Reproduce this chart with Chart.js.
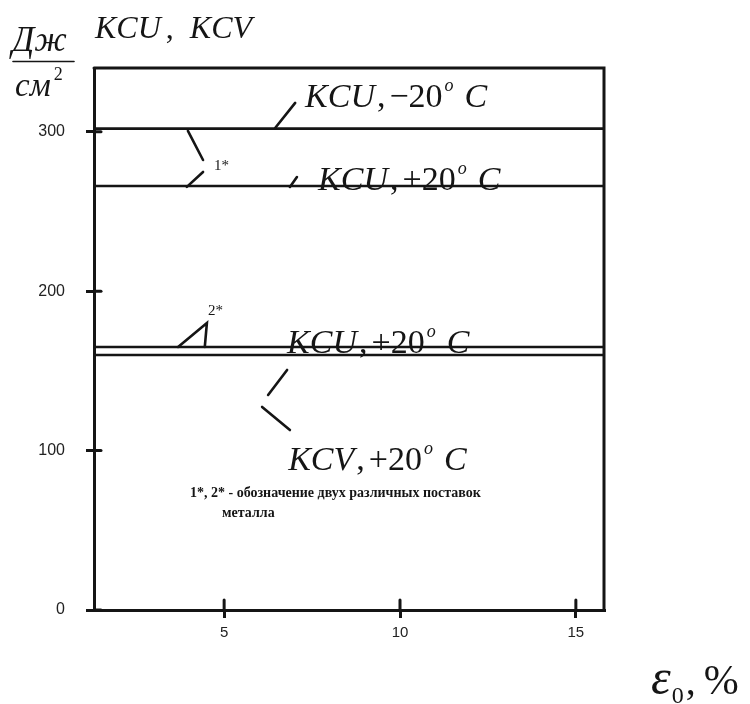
<!DOCTYPE html>
<html>
<head>
<meta charset="utf-8">
<script src="https://cdn.jsdelivr.net/npm/chart.js@4.4.1/dist/chart.umd.min.js"></script>
<style>
  html, body { margin: 0; padding: 0; background: #fff; }
  canvas { display: block; }
</style>
</head>
<body>
<canvas id="c" width="750" height="704"></canvas>
<script>
// Impact toughness vs. preliminary strain ε0
const strainRange = [1.3, 15.8];     // ε0, %
const energyRange = [0, 340];        // J/cm²
const xTicks = [5, 10, 15];
const yTicks = [0, 100, 200, 300];
const seriesNames = ['KCU −20°C (1*)', 'KCU +20°C (1*)', 'KCU +20°C (2*)', 'KCV +20°C (2*)'];
const seriesLevels = [302, 266, 165, 160];

const INK = '#151515';
const SERIF = '"Liberation Serif", "DejaVu Serif", serif';
const SANS = '"Liberation Sans", Arial, sans-serif';

// draws a run of text pieces with their own fonts and offsets
function rich(ctx, x, y, parts) {
  let cx = x;
  for (const p of parts) {
    ctx.font = p.f;
    cx += p.gap || 0;
    ctx.fillText(p.t, cx, y + (p.dy || 0));
    cx += ctx.measureText(p.t).width;
  }
}
const it = s => `italic ${s}px ${SERIF}`;
const up = s => `${s}px ${SERIF}`;

function tempLabel(ctx, x, y, name, temp) {
  rich(ctx, x, y, [
    { t: name, f: it(34) },
    { t: ',', f: up(34), gap: 2 },
    { t: temp, f: up(34), gap: 4 },
    { t: 'o', f: it(18), dy: -16, gap: 2 },
    { t: 'C', f: it(34), gap: 11 }
  ]);
}

const decorations = {
  id: 'decorations',
  afterDraw(chart) {
    const { ctx, chartArea: a, scales: { x, y } } = chart;
    const P = (vx, vy) => [x.getPixelForValue(vx), y.getPixelForValue(vy)];
    const seg = (p, q, w = 2.6) => {
      ctx.beginPath();
      ctx.moveTo(...P(...p));
      ctx.lineTo(...P(...q));
      ctx.lineWidth = w;
      ctx.stroke();
    };
    ctx.save();
    ctx.strokeStyle = INK;
    ctx.fillStyle = INK;
    ctx.lineCap = 'round';

    // top and right sides of the frame
    ctx.lineWidth = 3;
    ctx.beginPath();
    ctx.moveTo(a.left, a.top);
    ctx.lineTo(a.right, a.top);
    ctx.lineTo(a.right, a.bottom);
    ctx.stroke();

    // tick marks continue a little inside the frame
    ctx.lineWidth = 3;
    for (const v of yTicks) {
      const py = y.getPixelForValue(v);
      ctx.beginPath(); ctx.moveTo(a.left, py); ctx.lineTo(a.left + 7, py); ctx.stroke();
    }
    for (const v of xTicks) {
      const px = x.getPixelForValue(v);
      ctx.beginPath(); ctx.moveTo(px, a.bottom); ctx.lineTo(px, a.bottom - 10); ctx.stroke();
    }

    // leader strokes
    seg([6.45, 302.4], [7.02, 318.1]);          // KCU −20
    seg([3.97, 300.5], [4.40, 282.3]);          // bracket 1*
    seg([4.40, 274.8], [3.94, 265.4]);
    seg([6.87, 265.4], [7.07, 271.6]);          // KCU +20 (1*)
    ctx.beginPath();                            // marker 2*
    ctx.moveTo(...P(3.69, 165));
    ctx.lineTo(...P(4.51, 180.1));
    ctx.lineTo(...P(4.45, 165));
    ctx.lineWidth = 2.6;
    ctx.stroke();
    seg([6.79, 150.6], [6.25, 134.9]);          // KCV
    seg([6.08, 127.4], [6.87, 112.9]);

    // curve labels
    ctx.textBaseline = 'alphabetic';
    ctx.textAlign = 'left';
    let p;
    p = P(7.30, 315.6); tempLabel(ctx, p[0], p[1], 'KCU', '\u221220');
    p = P(7.67, 263.5); tempLabel(ctx, p[0], p[1], 'KCU', '+20');
    p = P(6.79, 161.2); tempLabel(ctx, p[0], p[1], 'KCU', '+20');
    p = P(6.82, 87.8);  tempLabel(ctx, p[0], p[1], 'KCV', '+20');

    ctx.font = up(15);
    p = P(4.71, 276); ctx.fillText('1*', p[0], p[1]);
    p = P(4.54, 185); ctx.fillText('2*', p[0], p[1]);

    ctx.font = `bold 14px ${SERIF}`;
    p = P(4.03, 70.9); ctx.fillText('1*, 2* - обозначение двух различных поставок', p[0], p[1]);
    p = P(4.94, 58.3); ctx.fillText('металла', p[0], p[1]);

    // axis captions
    rich(ctx, 95, 38, [
      { t: 'KCU', f: it(32) },
      { t: ',', f: up(32), gap: 5 },
      { t: 'KCV', f: it(32), gap: 16 }
    ]);
    ctx.font = it(35);
    ctx.fillText('Дж', 12, 51);
    ctx.lineWidth = 1.6;
    ctx.beginPath(); ctx.moveTo(13, 61.5); ctx.lineTo(74, 61.5); ctx.stroke();
    rich(ctx, 15, 96, [
      { t: 'см', f: it(33) },
      { t: '2', f: up(18), dy: -16, gap: 3 }
    ]);
    rich(ctx, 651, 694, [
      { t: 'ε', f: it(50) },
      { t: '0', f: up(24), dy: 9, gap: 1 },
      { t: ',', f: up(40), gap: 2 },
      { t: '%', f: up(42), gap: 8 }
    ]);
    ctx.restore();
  }
};

const datasets = seriesNames.map((name, i) => ({
  label: name,
  data: strainRange.map(v => ({ x: v, y: seriesLevels[i] })),
  borderColor: INK,
  borderWidth: 2.6,
  pointRadius: 0,
  tension: 0,
  clip: false
}));

new Chart(document.getElementById('c'), {
  type: 'line',
  data: { datasets },
  options: {
    responsive: false,
    animation: false,
    layout: { padding: { left: 0, top: 68, right: 146, bottom: 0 } },
    plugins: { legend: { display: false }, tooltip: { enabled: false } },
    scales: {
      x: {
        type: 'linear',
        min: strainRange[0],
        max: strainRange[1],
        afterBuildTicks: s => { s.ticks = xTicks.map(v => ({ value: v })); },
        afterFit: s => { s.height = 94; },
        border: { display: true, color: INK, width: 3 },
        grid: { drawOnChartArea: false, drawTicks: true, tickLength: 8, color: INK, lineWidth: 3 },
        ticks: { color: '#222', font: { family: SANS, size: 15 }, padding: 6 }
      },
      y: {
        type: 'linear',
        min: energyRange[0],
        max: energyRange[1],
        afterBuildTicks: s => { s.ticks = yTicks.map(v => ({ value: v })); },
        afterFit: s => { s.width = 94; },
        border: { display: true, color: INK, width: 3 },
        grid: { drawOnChartArea: false, drawTicks: true, tickLength: 8, color: INK, lineWidth: 3 },
        ticks: { color: '#222', font: { family: SANS, size: 16 }, padding: 21 }
      }
    }
  },
  plugins: [decorations]
});
</script>
</body>
</html>
